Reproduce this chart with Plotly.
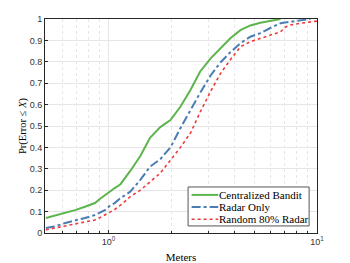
import plotly.graph_objects as go

# ---- data ----
x_green = [0.5, 0.55, 0.62, 0.69, 0.77, 0.86, 0.91, 0.96, 1.02, 1.07, 1.14, 1.27, 1.42, 1.58,
           1.77, 1.98, 2.21, 2.47, 2.75, 3.08, 3.44, 3.84, 4.29, 4.79, 5.35, 5.97, 6.68]
y_green = [0.07, 0.08, 0.093, 0.107, 0.123, 0.14, 0.16, 0.178, 0.195, 0.21, 0.228, 0.29, 0.36, 0.445,
           0.495, 0.528, 0.59, 0.668, 0.755, 0.815, 0.865, 0.91, 0.948, 0.97, 0.982, 0.99, 1.0]

x_blue = [0.5, 0.55, 0.62, 0.69, 0.77, 0.86, 0.91, 0.96, 1.02, 1.07, 1.14, 1.27, 1.42, 1.58,
          1.77, 1.98, 2.21, 2.47, 2.75, 3.08, 3.44, 3.84, 4.29, 4.79, 5.35, 5.97, 6.68, 7.46, 8.33, 9.3]
y_blue = [0.023, 0.03, 0.047, 0.057, 0.07, 0.084, 0.095, 0.107, 0.13, 0.14, 0.163, 0.193, 0.248, 0.31,
          0.345, 0.40, 0.49, 0.575, 0.655, 0.735, 0.797, 0.845, 0.887, 0.917, 0.934, 0.958, 0.98, 0.987, 0.995, 1.0]

x_red = [0.5, 0.55, 0.62, 0.69, 0.77, 0.86, 0.91, 0.96, 1.02, 1.07, 1.14, 1.27, 1.42, 1.58,
         1.77, 1.98, 2.21, 2.47, 2.75, 3.08, 3.44, 3.84, 4.29, 4.79, 5.35, 5.97, 6.68, 7.1, 7.46, 8.33, 9.3, 10.0]
y_red = [0.015, 0.023, 0.034, 0.045, 0.051, 0.061, 0.072, 0.084, 0.1, 0.11, 0.13, 0.17, 0.2, 0.24,
         0.28, 0.34, 0.40, 0.467, 0.565, 0.66, 0.745, 0.81, 0.87, 0.894, 0.91, 0.925, 0.94, 0.964, 0.972, 0.98, 0.987, 0.99]

names = ["Centralized Bandit", "Radar Only", "Random 80% Radar"]
colors = ["#5cb54c", "#4a7db3", "#f03a3a"]
dashes = ["solid", "dashdot", "dot"]
widths = [2, 2, 1.6]
y_ticks = [0, 0.1, 0.2, 0.3, 0.4, 0.5, 0.6, 0.7, 0.8, 0.9, 1]
y_ticklabels = ["0", "0.1", "0.2", "0.3", "0.4", "0.5", "0.6", "0.7", "0.8", "0.9", "1"]
x_ticks = [1, 10]
x_ticklabels = ["10<sup>0</sup>", "10<sup>1</sup>"]
x_minor = [0.5, 0.6, 0.7, 0.8, 0.9, 2, 3, 4, 5, 6, 7, 8, 9]

serif = "Liberation Serif, DejaVu Serif, serif"
sans = "Liberation Sans, Arial, sans-serif"

fig = go.Figure()
for xs, ys, nm, c, d, w in zip([x_green, x_blue, x_red], [y_green, y_blue, y_red],
                               names, colors, dashes, widths):
    fig.add_trace(go.Scatter(x=xs, y=ys, mode="lines", name=nm, showlegend=False,
                             line=dict(color=c, width=w, dash=d)))

axis_common = dict(showline=True, linecolor="#262626", linewidth=1, mirror=True,
                   ticks="inside", ticklen=3, tickcolor="#262626", automargin=False,
                   tickfont=dict(family=sans, size=9, color="#333333"),
                   showgrid=True, gridcolor="#e6e6e6", gridwidth=1, zeroline=False)

# compact legend drawn in plot-domain coordinates (box, line samples, labels)
shapes = [dict(type="rect", xref="paper", yref="paper", x0=0.526, x1=0.971, y0=0.033, y1=0.215,
               line=dict(color="#555555", width=1), fillcolor="white", layer="above")]
annotations = []
leg_y = [0.178, 0.122, 0.064]
for nm, c, d, w, yy in zip(names, colors, dashes, widths, leg_y):
    shapes.append(dict(type="line", xref="paper", yref="paper", x0=0.539, x1=0.637, y0=yy, y1=yy,
                       line=dict(color=c, width=w, dash=d), layer="above"))
    annotations.append(dict(xref="paper", yref="paper", x=0.637, y=yy, text=nm, showarrow=False,
                            xanchor="left", yanchor="middle", borderpad=0,
                            font=dict(family=serif, size=11, color="black")))

# y-axis title placed close to the tick labels
annotations.append(dict(xref="paper", yref="paper", x=-0.081, y=0.5, text="Pr(Error ≤ <i>X</i>)",
                        textangle=-90, showarrow=False, xanchor="center", yanchor="middle",
                        font=dict(family=serif, size=10.5, color="black")))

# the page body adds an 8px offset, so margins are shifted by 8px
fig.update_layout(
    width=342, height=255,
    margin=dict(l=37, r=33, t=11, b=30),
    paper_bgcolor="white", plot_bgcolor="white",
    showlegend=False,
    shapes=shapes, annotations=annotations,
    xaxis=dict(type="log", range=[-0.3053, 1.0], tickvals=x_ticks, ticktext=x_ticklabels,
               title=dict(text="Meters", font=dict(family=serif, size=11, color="black"), standoff=7),
               minor=dict(tickvals=x_minor, showgrid=True, gridcolor="#e6e6e6", griddash="dot",
                          ticks="inside", ticklen=2, tickcolor="#262626"),
               **axis_common),
    yaxis=dict(range=[0, 1], tickvals=y_ticks, ticktext=y_ticklabels, **axis_common),
)

fig.write_html("out.html")
